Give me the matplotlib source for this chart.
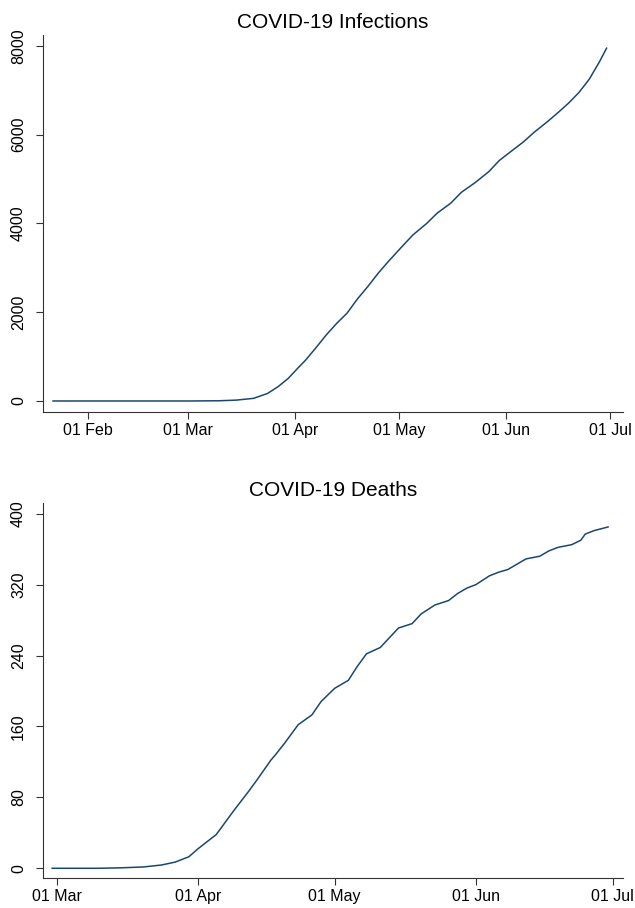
import matplotlib
matplotlib.use("Agg")
import matplotlib.pyplot as plt
import matplotlib.dates as mdates
import pandas as pd

# Infections (cumulative)
inf_dates = ["2020-01-22", "2020-02-01", "2020-02-15", "2020-03-01", "2020-03-10",
             "2020-03-15", "2020-03-20", "2020-03-24", "2020-03-27", "2020-03-30",
             "2020-04-02", "2020-04-04", "2020-04-07", "2020-04-10", "2020-04-13",
             "2020-04-16", "2020-04-19", "2020-04-22", "2020-04-25", "2020-04-28",
             "2020-05-02", "2020-05-05", "2020-05-09", "2020-05-12", "2020-05-16",
             "2020-05-19", "2020-05-23", "2020-05-27", "2020-05-30", "2020-06-02",
             "2020-06-06", "2020-06-09", "2020-06-13", "2020-06-16", "2020-06-19",
             "2020-06-22", "2020-06-25", "2020-06-28", "2020-06-30"]
infections = [0, 0, 0, 0, 5,
              20, 60, 170, 320, 510,
              760, 920, 1200, 1490, 1750,
              1980, 2300, 2580, 2880, 3150,
              3490, 3740, 4000, 4230, 4460,
              4700, 4920, 5170, 5420, 5600,
              5840, 6050, 6300, 6500, 6710,
              6950, 7250, 7650, 7950]

# Deaths (cumulative)
death_dates = ["2020-02-29", "2020-03-05", "2020-03-10", "2020-03-15", "2020-03-20",
               "2020-03-24", "2020-03-27", "2020-03-30", "2020-04-01", "2020-04-03",
               "2020-04-05", "2020-04-07", "2020-04-09", "2020-04-12", "2020-04-14",
               "2020-04-17", "2020-04-18", "2020-04-20", "2020-04-23", "2020-04-26",
               "2020-04-28", "2020-05-01", "2020-05-04", "2020-05-06", "2020-05-08",
               "2020-05-11", "2020-05-13", "2020-05-15", "2020-05-18", "2020-05-20",
               "2020-05-23", "2020-05-26", "2020-05-28", "2020-05-30", "2020-06-01",
               "2020-06-04", "2020-06-06", "2020-06-08", "2020-06-10", "2020-06-12",
               "2020-06-15", "2020-06-17", "2020-06-19", "2020-06-22", "2020-06-24",
               "2020-06-25", "2020-06-27", "2020-06-30"]
deaths = [0, 0, 0, 0.5, 1.5,
          3.7, 7, 13, 22, 30,
          38, 52, 66, 86, 100,
          122, 128, 141, 162, 173,
          188, 203, 212, 228, 242,
          249, 260, 271, 276, 287,
          297, 302, 310, 316, 320,
          330, 334, 337, 343, 349,
          352, 358, 362, 365, 370,
          377, 381, 385]

inf_ticks = ["2020-02-01", "2020-03-01", "2020-04-01", "2020-05-01", "2020-06-01", "2020-07-01"]
death_ticks = ["2020-03-01", "2020-04-01", "2020-05-01", "2020-06-01", "2020-07-01"]

plt.rcParams["font.family"] = ["Liberation Sans", "DejaVu Sans"]
navy = "#1a476f"

fig = plt.figure(figsize=(6.35, 9.08), dpi=100)
ax1 = fig.add_axes([0.0672, 0.5466, 0.9134, 0.4149])
ax2 = fig.add_axes([0.0672, 0.0327, 0.9134, 0.4130])


def style(ax, title, yticks, ylim, xlim, xticks):
    ax.set_title(title, fontsize=15, pad=5)
    ax.spines["top"].set_visible(False)
    ax.spines["right"].set_visible(False)
    for s in ("left", "bottom"):
        ax.spines[s].set_color("#333333")
        ax.spines[s].set_linewidth(0.8)
    ax.set_yticks(yticks)
    ax.set_ylim(*ylim)
    ax.set_xlim(pd.Timestamp(xlim[0]), pd.Timestamp(xlim[1]))
    ax.set_xticks(pd.to_datetime(xticks))
    ax.xaxis.set_major_formatter(mdates.DateFormatter("%d %b"))
    ax.tick_params(axis="both", length=5, width=0.8, color="#333333", labelsize=11.5)
    ax.tick_params(axis="x", pad=3)
    ax.tick_params(axis="y", pad=7)
    for lab in ax.get_yticklabels():
        lab.set_rotation(90)
        lab.set_va("center")


ax1.plot(pd.to_datetime(inf_dates), infections, color=navy, linewidth=1.1)
style(ax1, "COVID-19 Infections", [0, 2000, 4000, 6000, 8000], (-241, 8248),
      ("2020-01-19", "2020-07-04 16:00"), inf_ticks)

ax2.plot(pd.to_datetime(death_dates), deaths, color=navy, linewidth=1.1)
style(ax2, "COVID-19 Deaths", [0, 80, 160, 240, 320, 400], (-11.3, 411.7),
      ("2020-02-26 22:00", "2020-07-03 05:00"), death_ticks)

fig.savefig("out.png", dpi=100)
